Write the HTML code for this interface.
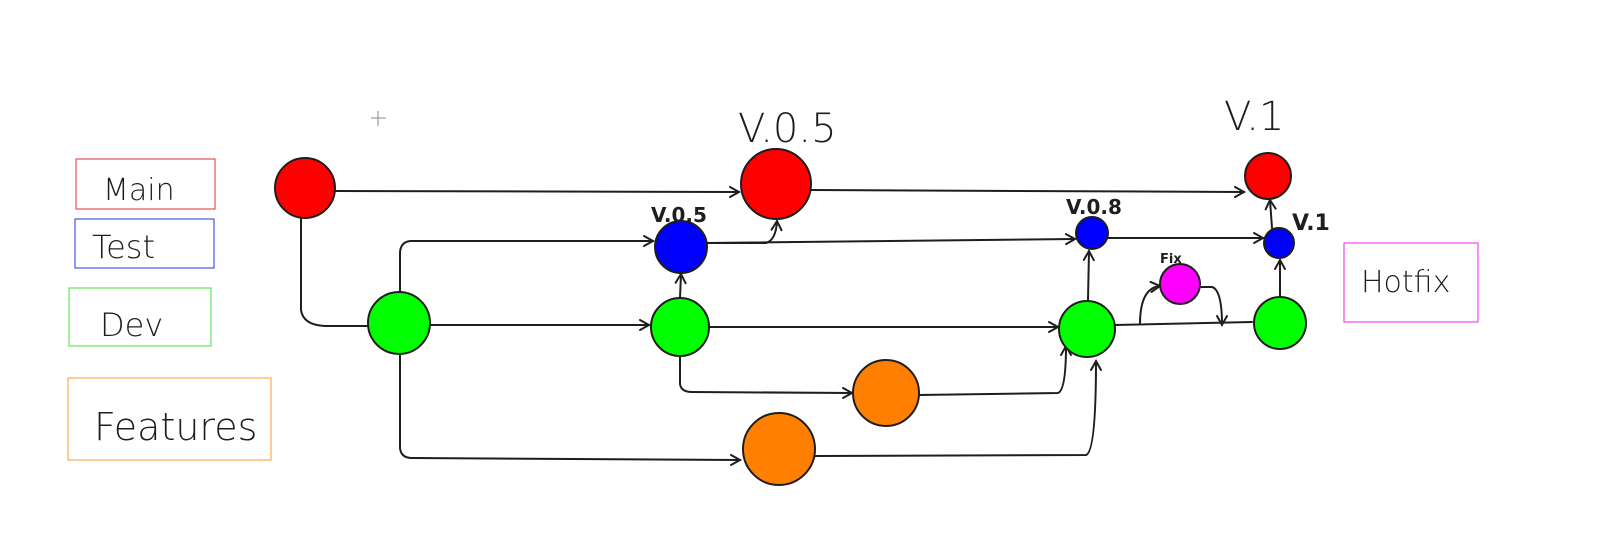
<!DOCTYPE html>
<html><head><meta charset="utf-8"><style>
html,body{margin:0;padding:0;background:#fff;}
svg{display:block;}
text{font-family:"DejaVu Sans","Liberation Sans",sans-serif;fill:#1e1e1e;}
</style></head><body>
<svg width="1603" height="547" viewBox="0 0 1603 547">
<defs>
<marker id="ah" markerWidth="14" markerHeight="14" refX="11" refY="7" orient="auto" markerUnits="userSpaceOnUse">
<path d="M2,2 L11,7 L2,12" fill="none" stroke="#1e1e1e" stroke-width="2" stroke-linecap="round"/>
</marker>
</defs>
<g stroke="#888" stroke-width="1"><line x1="371" y1="118" x2="386" y2="118"/><line x1="378" y1="111" x2="378" y2="126"/></g>

<g fill="none" stroke-width="1">
<rect x="76" y="159" width="139" height="50" stroke="#e03131"/>
<rect x="75" y="219" width="139" height="49" stroke="#2233ee"/>
<rect x="69" y="288" width="142" height="58" stroke="#40e040"/>
<rect x="68" y="378" width="203" height="82" stroke="#ff9933"/>
<rect x="1344" y="243" width="134" height="79" stroke="#ee22ee"/>
</g>
<text x="103" y="200" font-size="30" font-weight="200">Main</text>
<text x="92" y="258" font-size="32" font-weight="200">Test</text>
<text x="100" y="336" font-size="32" font-weight="200">Dev</text>
<text x="94" y="440" font-size="38" font-weight="200">Features</text>
<text x="1361" y="292" font-size="30" font-weight="200">Hotfix</text>

<g fill="none" stroke="#1e1e1e" stroke-width="2" stroke-linecap="round">
<path d="M335,191 L739,192" marker-end="url(#ah)"/>
<path d="M811,190 L1244,192" marker-end="url(#ah)"/>
<path d="M301,218 L301,310 Q303,325 325,326 L368,326"/>
<path d="M400,292 L400,252 Q401,241 412,241 L653,241" marker-end="url(#ah)"/>
<path d="M430,325 L649,325" marker-end="url(#ah)"/>
<path d="M400,354 L400,448 Q401,458 412,458 L740,460" marker-end="url(#ah)"/>
<path d="M707,243 L766,243 Q776,240 777,221" marker-end="url(#ah)"/>
<path d="M707,243 L1075,239" marker-end="url(#ah)"/>
<path d="M1108,238 L1263,238" marker-end="url(#ah)"/>
<path d="M680,298 L681,274" marker-end="url(#ah)"/>
<path d="M709,327 L1058,327" marker-end="url(#ah)"/>
<path d="M680,356 L680,384 Q681,392 692,392 L852,393" marker-end="url(#ah)"/>
<path d="M918,395 L1058,393 Q1066,390 1066,346" marker-end="url(#ah)"/>
<path d="M815,456 L1086,455 Q1096,452 1096,361" marker-end="url(#ah)"/>
<path d="M1088,300 L1089,251" marker-end="url(#ah)"/>
<path d="M1115,325 L1252,322"/>
<path d="M1140,324 Q1140,288 1160,286" marker-end="url(#ah)"/>
<path d="M1200,287 L1212,287 Q1222,290 1222,325" marker-end="url(#ah)"/>
<path d="M1280,297 L1280,260" marker-end="url(#ah)"/>
<path d="M1272,228 L1270,200" marker-end="url(#ah)"/>
</g>

<g stroke="#1e1e1e" stroke-width="2">
<circle cx="305" cy="188" r="30" fill="#ff0000"/>
<circle cx="776" cy="184" r="35" fill="#ff0000"/>
<circle cx="1268" cy="176" r="23" fill="#ff0000"/>
<circle cx="681" cy="247" r="26" fill="#0000ff"/>
<circle cx="1092" cy="233" r="16" fill="#0000ff"/>
<circle cx="1279" cy="243" r="15" fill="#0000ff"/>
<circle cx="399" cy="323" r="31" fill="#00ff00"/>
<circle cx="680" cy="327" r="29" fill="#00ff00"/>
<circle cx="1087" cy="329" r="28" fill="#00ff00"/>
<circle cx="1280" cy="323" r="26" fill="#00ff00"/>
<circle cx="886" cy="393" r="33" fill="#ff7f00"/>
<circle cx="779" cy="449" r="36" fill="#ff7f00"/>
<circle cx="1180" cy="284" r="20" fill="#ff00ff"/>
</g>

<text x="738" y="142" font-size="40" font-weight="200">V.0.5</text>
<text x="1224" y="130" font-size="40" font-weight="200">V.1</text>
<text x="651" y="222" font-size="20" font-weight="bold">V.0.5</text>
<text x="1066" y="214" font-size="20" font-weight="bold">V.0.8</text>
<text x="1292" y="230" font-size="22" font-weight="bold">V.1</text>
<text x="1160" y="263" font-size="13" font-weight="bold">Fix</text>
</svg>
</body></html>
